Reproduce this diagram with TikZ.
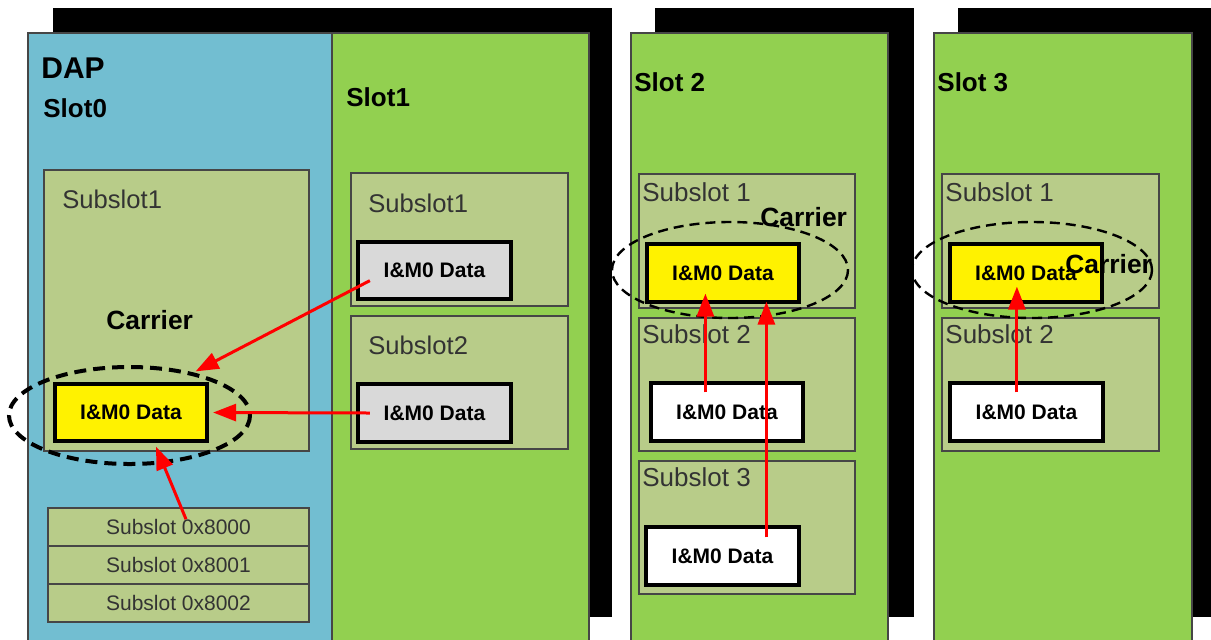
\documentclass[tikz,border=0pt]{standalone}
\usepackage{fontspec}
\setmainfont{Liberation Sans}
\usetikzlibrary{arrows.meta,calc,fit}
\definecolor{dapblue}{RGB}{114,190,209}
\definecolor{slotgreen}{RGB}{146,208,80}
\definecolor{subgreen}{RGB}{184,204,137}
\definecolor{datagray}{RGB}{217,217,217}
\definecolor{edgegray}{RGB}{70,70,70}
\begin{document}
\begin{tikzpicture}[x=0.5pt,y=-0.5pt,
  slotframe/.style={draw=edgegray,line width=0.6pt},
  subbox/.style={draw=edgegray,fill=subgreen,line width=0.8pt,inner sep=0pt},
  databox/.style={draw=black,line width=1.6pt,inner sep=0pt,
    font=\fontsize{10.5}{12}\selectfont\bfseries},
  slottitle/.style={anchor=base west,inner sep=0pt,font=\fontsize{13}{15}\selectfont\bfseries},
  sublabel/.style={anchor=base west,inner sep=0pt,font=\fontsize{13}{15}\selectfont,text=black!80},
  smalllabel/.style={font=\fontsize{10.5}{12}\selectfont,text=black!80},
  carriertext/.style={anchor=base west,inner sep=0pt,font=\fontsize{13.2}{15}\selectfont\bfseries},
  ringbig/.style={draw=black,line width=2pt,dash pattern=on 6pt off 3.5pt},
  ringsmall/.style={draw=black,line width=1.2pt,dash pattern=on 5pt off 3pt},
  flow/.style={draw=red,line width=1.5pt,-{Triangle[length=11.5pt,width=8.5pt]}}]
\useasboundingbox (0,0) rectangle (1211,639);
\clip (0,0) rectangle (1211,639);

% shadows behind the slot modules
\fill[black] (53,8) rectangle (612,617);
\fill[black] (655,8) rectangle (914,617);
\fill[black] (958,8) rectangle (1215,617);

% slot modules
\filldraw[slotframe,fill=dapblue] (28,33) rectangle (332,645);
\filldraw[slotframe,fill=slotgreen] (332,33) rectangle (589,645);
\filldraw[slotframe,fill=slotgreen] (631,33) rectangle (888,645);
\filldraw[slotframe,fill=slotgreen] (934,33) rectangle (1192,645);

\node[anchor=base west,inner sep=0pt,font=\fontsize{15}{17}\selectfont\bfseries] (dap) at (41,78) {DAP};
\node[slottitle] (t0) at (43,117) {Slot0};
\node[slottitle] (t1) at (346,106) {Slot1};
\node[slottitle] (t2) at (634,91) {Slot 2};
\node[slottitle] (t3) at (937,91) {Slot 3};

% slot 0 (DAP)
\node[subbox,fit={(44,170) (309,451)}] (s0a) {};
\node[sublabel,font=\fontsize{12.8}{15}\selectfont] (l0a) at (62,208) {Subslot1};
\node[subbox,fit={(48,508) (309,546)}] (p0) {};
\node[smalllabel] at (p0.center) {Subslot 0x8000};
\node[subbox,fit={(48,546) (309,584)}] (p1) {};
\node[smalllabel] at (p1.center) {Subslot 0x8001};
\node[subbox,fit={(48,584) (309,622)}] (p2) {};
\node[smalllabel] at (p2.center) {Subslot 0x8002};
\node[databox,fill=yellow,fit={(55,384) (207,441)}] (y0) {};
\node[databox,draw=none] at (y0.center) {I\&M0 Data};

% slot 1
\node[subbox,fit={(351,173) (568,306)}] (s1a) {};
\node[sublabel,font=\fontsize{12.8}{15}\selectfont] at (368,212) {Subslot1};
\node[subbox,fit={(351,316) (568,449)}] (s1b) {};
\node[sublabel,font=\fontsize{12.8}{15}\selectfont] at (368,354) {Subslot2};
\node[databox,fill=datagray,fit={(358,242) (511,299)}] (g1) {};
\node[databox,draw=none] at (g1.center) {I\&M0 Data};
\node[databox,fill=datagray,fit={(358,384) (511,442)}] (g2) {};
\node[databox,draw=none] at (g2.center) {I\&M0 Data};

% slot 2
\node[subbox,fit={(639,174) (855,308)}] (s2a) {};
\node[sublabel] at (642,201) {Subslot 1};
\node[subbox,fit={(639,318) (855,451)}] (s2b) {};
\node[sublabel] at (642,343) {Subslot 2};
\node[subbox,fit={(639,461) (855,594)}] (s2c) {};
\node[sublabel] at (642,486) {Subslot 3};
\node[databox,fill=yellow,fit={(647,244) (799,302)}] (y2) {};
\node[databox,draw=none] at (y2.center) {I\&M0 Data};
\node[databox,fill=white,fit={(651,383) (803,441)}] (w2a) {};
\node[databox,draw=none] at (w2a.center) {I\&M0 Data};
\node[databox,fill=white,fit={(646,527) (799,585)}] (w2b) {};
\node[databox,draw=none] at (w2b.center) {I\&M0 Data};

% slot 3
\node[subbox,fit={(942,174) (1159,308)}] (s3a) {};
\node[sublabel] at (945,201) {Subslot 1};
\node[subbox,fit={(942,318) (1159,451)}] (s3b) {};
\node[sublabel] at (945,343) {Subslot 2};
\node[databox,fill=yellow,fit={(950,244) (1102,302)}] (y3) {};
\node[databox,draw=none] at (y3.center) {I\&M0 Data};
\node[databox,fill=white,fit={(950,383) (1103,441)}] (w3) {};
\node[databox,draw=none] at (w3.center) {I\&M0 Data};

% carrier rings
\draw[ringbig] (129.5,415.5) ellipse [x radius=120.5,y radius=48.5];
\draw[ringsmall] (730,270) ellipse [x radius=118,y radius=48];
\draw[ringsmall] (1032,270) ellipse [x radius=120,y radius=48];
\node[carriertext] (c0) at (106,329) {Carrier};
\node[carriertext] (c2) at (760,226) {Carrier};
\node[carriertext] (c3) at (1065,273) {Carrier};

% data flow towards the carrier
\draw[flow] ($(g1.south west)+(13.5,-20)$) -- ($(y0.north east)+(-13,-11)$);
\draw[flow] ($(g2.west)+(13.5,0)$) -- ($(y0.east)+(4.5,0)$);
\draw[flow] ($(p0.north)+(7.5,12)$) -- ($(y0.south)+(25,4)$);
\draw[flow] ($(w2a.north west)+(56,11)$) -- ($(y2.south west)+(60,-10)$);
\draw[flow] ($(w2b.north west)+(122,12)$) -- ($(y2.south west)+(121,-2)$);
\draw[flow] ($(w3.north west)+(68.5,11)$) -- ($(y3.south west)+(68.5,-17)$);
\end{tikzpicture}
\end{document}
